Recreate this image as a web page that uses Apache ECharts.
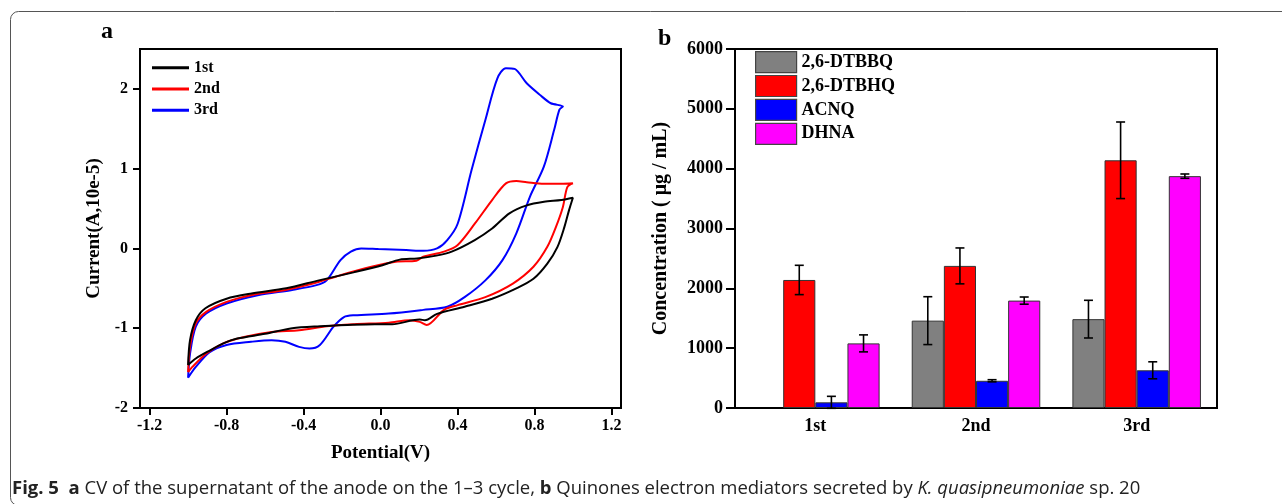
<!DOCTYPE html>
<html><head><meta charset="utf-8">
<script src="https://cdn.jsdelivr.net/npm/echarts@6/dist/echarts.min.js"></script>
<style>html,body{margin:0;padding:0;background:#fff}#c{width:1282px;height:504px}</style>
</head><body><div id="c"></div>
<script>
// ---------- Panel a: cyclic voltammetry (Potential V, Current A x10e-5) ----------
const cvTicksX = [-1.2, -0.8, -0.4, 0.0, 0.4, 0.8, 1.2];
const cvTicksY = [-2, -1, 0, 1, 2];
const cycleNames = ['1st', '2nd', '3rd'];
const cv1 = [
  [-1.00,-1.46],[-0.99,-1.15],[-0.96,-0.90],[-0.91,-0.75],[-0.80,-0.63],[-0.67,-0.565],[-0.49,-0.50],
  [-0.32,-0.40],[-0.14,-0.30],[0.01,-0.21],[0.10,-0.14],[0.19,-0.125],[0.29,-0.09],[0.37,-0.04],
  [0.49,0.105],[0.58,0.25],[0.67,0.44],[0.76,0.54],[0.85,0.585],[0.94,0.607],[1.00,0.636],
  [0.98,0.48],[0.956,0.27],[0.92,0.02],[0.867,-0.19],[0.795,-0.38],[0.706,-0.50],[0.58,-0.63],
  [0.437,-0.73],[0.294,-0.82],[0.231,-0.90],[0.204,-0.89],[0.168,-0.90],[0.061,-0.95],[-0.029,-0.95],
  [-0.172,-0.96],[-0.315,-0.975],[-0.459,-1.00],[-0.60,-1.07],[-0.745,-1.13],[-0.817,-1.19],
  [-0.888,-1.28],[-0.96,-1.38],[-1.00,-1.46]
];
const cv2 = [
  [-1.00,-1.55],[-0.99,-1.23],[-0.96,-0.94],[-0.906,-0.795],[-0.80,-0.67],[-0.673,-0.586],[-0.494,-0.52],
  [-0.351,-0.44],[-0.208,-0.335],[-0.047,-0.23],[0.079,-0.167],[0.186,-0.155],[0.222,-0.105],[0.33,-0.04],
  [0.40,0.04],[0.49,0.31],[0.58,0.607],[0.652,0.816],[0.706,0.845],[0.76,0.83],[0.849,0.81],[0.939,0.81],
  [1.00,0.816],
  [0.971,0.77],[0.948,0.52],[0.912,0.27],[0.867,0.02],[0.795,-0.23],[0.688,-0.44],[0.545,-0.61],
  [0.401,-0.71],[0.33,-0.77],[0.24,-0.96],[0.204,-0.92],[0.15,-0.90],[0.043,-0.93],[-0.136,-0.95],
  [-0.279,-0.975],[-0.423,-1.025],[-0.566,-1.046],[-0.709,-1.11],[-0.817,-1.19],[-0.906,-1.32],
  [-0.978,-1.485],[-1.00,-1.55]
];
const cv3 = [
  [-1.00,-1.62],[-0.99,-1.32],[-0.96,-0.98],[-0.906,-0.816],[-0.80,-0.69],[-0.638,-0.586],[-0.459,-0.52],
  [-0.333,-0.46],[-0.28,-0.40],[-0.208,-0.146],[-0.154,-0.04],[-0.10,0.0],[-0.011,-0.008],[0.133,-0.02],
  [0.222,-0.03],[0.294,0.0],[0.347,0.105],[0.401,0.31],[0.473,0.98],[0.545,1.61],[0.607,2.13],
  [0.652,2.26],[0.697,2.25],[0.76,2.07],[0.831,1.92],[0.885,1.82],[0.948,1.78],
  [0.93,1.74],[0.903,1.49],[0.849,1.025],[0.777,0.65],[0.706,0.19],[0.634,-0.146],[0.545,-0.40],
  [0.437,-0.61],[0.347,-0.73],[0.222,-0.77],[0.043,-0.816],[-0.136,-0.837],[-0.19,-0.86],[-0.244,-0.98],
  [-0.315,-1.21],[-0.369,-1.255],[-0.423,-1.234],[-0.494,-1.17],[-0.566,-1.15],[-0.673,-1.17],
  [-0.80,-1.21],[-0.888,-1.30],[-0.96,-1.485],[-1.00,-1.62]
];

// ---------- Panel b: quinone concentrations (µg/mL) ----------
const cycles = ['1st', '2nd', '3rd'];
const quinoneNames = ['2,6-DTBBQ', '2,6-DTBHQ', 'ACNQ', 'DHNA'];
const dtbbq = [null, 1460, 1485];
const dtbbqErr = [null, 400, 315];
const dtbhq = [2140, 2375, 4140];
const dtbhqErr = [245, 300, 640];
const acnq = [95, 455, 630];
const acnqErr = [100, 18, 142];
const dhna = [1080, 1795, 3875];
const dhnaErr = [142, 60, 36];
const concTicks = [0, 1000, 2000, 3000, 4000, 5000, 6000];

const serif = "'Liberation Serif','Times New Roman',serif";
const barColors = ['#808080', '#ff0000', '#0000ff', '#ff00ff'];
const lineColors = ['#000000', '#ff0000', '#0000ff'];

function errRender(idx) {
  return function (params, api) {
    const v = api.value(1), e = api.value(2);
    if (v == null || isNaN(v) || e == null || isNaN(e)) return null;
    const ci = api.value(0);
    const band = api.size([1, 0])[0];
    const bw = band * 0.8 / 4;
    const c = api.coord([ci, v]);
    const x = c[0] + (idx - 1.5) * bw;
    const yT = api.coord([ci, v + e])[1];
    const yB = api.coord([ci, v - e])[1];
    const cap = 4.5;
    const st = { stroke: '#000', lineWidth: 1.6 };
    return { type: 'group', children: [
      { type: 'line', shape: { x1: x, y1: yT, x2: x, y2: yB }, style: st },
      { type: 'line', shape: { x1: x - cap, y1: yT, x2: x + cap, y2: yT }, style: st },
      { type: 'line', shape: { x1: x - cap, y1: yB, x2: x + cap, y2: yB }, style: st }
    ]};
  };
}

const values = [dtbbq, dtbhq, acnq, dhna];
const errs = [dtbbqErr, dtbhqErr, acnqErr, dhnaErr];
const cvs = [cv1, cv2, cv3];

const series = [];
cvs.forEach((d, i) => series.push({
  name: cycleNames[i], type: 'line', xAxisIndex: 0, yAxisIndex: 0, data: d,
  showSymbol: false, symbol: 'none', smooth: 0.3, color: lineColors[i],
  lineStyle: { width: 2, color: lineColors[i] }, z: 5 - i
}));
values.forEach((vals, i) => series.push({
  name: quinoneNames[i], type: 'bar', xAxisIndex: 1, yAxisIndex: 1,
  data: vals.map(v => v == null ? '-' : v), barGap: '0%', barCategoryGap: '20%',
  color: barColors[i],
  itemStyle: { color: barColors[i], borderColor: '#333', borderWidth: 1 }
}));
values.forEach((vals, i) => series.push({
  type: 'custom', xAxisIndex: 1, yAxisIndex: 1, z: 10,
  renderItem: errRender(i), encode: { x: 0, y: 1 },
  data: vals.map((v, k) => [k, v == null ? NaN : v, errs[i][k] == null ? NaN : errs[i][k]])
}));

const axisLineSt = { show: true, onZero: false, lineStyle: { color: '#000', width: 2 } };
const labelSt = (size) => ({ color: '#000', fontFamily: serif, fontWeight: 'bold', fontSize: size });

const chart = echarts.init(document.getElementById('c'), null, { renderer: 'canvas' });
chart.setOption({
  backgroundColor: '#fff',
  animation: false,
  grid: [
    { left: 140, top: 49, width: 481, height: 359, show: true, borderColor: '#000', borderWidth: 2, backgroundColor: 'transparent' },
    { left: 735, top: 49, width: 482, height: 359, show: true, borderColor: '#000', borderWidth: 2, backgroundColor: 'transparent' }
  ],
  xAxis: [
    { type: 'value', gridIndex: 0, min: -1.25, max: 1.25, position: 'bottom',
      axisLine: axisLineSt,
      axisTick: { show: true, length: 7, customValues: cvTicksX, lineStyle: { color: '#000', width: 2 } },
      axisLabel: Object.assign(labelSt(16), { customValues: cvTicksX, margin: 10, formatter: v => (Math.abs(v) < 1e-9 ? 0 : v).toFixed(1) }),
      splitLine: { show: false },
      name: 'Potential(V)', nameLocation: 'middle', nameGap: 36, nameTextStyle: labelSt(19) },
    { type: 'category', gridIndex: 1, data: cycles, position: 'bottom',
      axisLine: axisLineSt, axisTick: { show: false },
      axisLabel: Object.assign(labelSt(18), { margin: 9 }), splitLine: { show: false } }
  ],
  yAxis: [
    { type: 'value', gridIndex: 0, min: -2, max: 2.5, position: 'left',
      axisLine: axisLineSt,
      axisTick: { show: true, length: 7, customValues: cvTicksY, lineStyle: { color: '#000', width: 2 } },
      axisLabel: Object.assign(labelSt(16), { customValues: cvTicksY, margin: 12, formatter: v => String(v) }),
      splitLine: { show: false },
      name: 'Current(A,10e-5)', nameLocation: 'middle', nameGap: 36, nameTextStyle: labelSt(19) },
    { type: 'value', gridIndex: 1, min: 0, max: 6000, interval: 1000, position: 'left',
      axisLine: axisLineSt,
      axisTick: { show: true, length: 9, customValues: concTicks, lineStyle: { color: '#000', width: 2 } },
      axisLabel: Object.assign(labelSt(18), { customValues: concTicks, margin: 12, formatter: v => String(v) }),
      splitLine: { show: false },
      name: 'Concentration ( μg / mL)', nameLocation: 'middle', nameGap: 64, nameTextStyle: labelSt(20) }
  ],
  legend: [
    { data: cycleNames, orient: 'vertical', left: 152, top: 57, icon: 'rect',
      itemWidth: 37, itemHeight: 3, itemGap: 0, padding: 0,
      textStyle: Object.assign(labelSt(16), { lineHeight: 21.3 }) },
    { data: quinoneNames, orient: 'vertical', left: 755, top: 51, icon: 'rect',
      itemWidth: 41, itemHeight: 21, itemGap: 1.7, padding: 0,
      itemStyle: { borderColor: '#444', borderWidth: 1.2 },
      textStyle: labelSt(18) }
  ],
  graphic: [
    { type: 'rect', silent: true, z: 0,
      shape: { x: 10.5, y: 11.5, width: 1300, height: 494, r: 8 },
      style: { fill: 'none', stroke: '#555', lineWidth: 1 } },
    { type: 'text', style: { text: 'a', x: 101, y: 32, font: "bold 24px 'Liberation Serif','Times New Roman',serif", fill: '#000', verticalAlign: 'middle' } },
    { type: 'text', style: { text: 'b', x: 658, y: 39, font: "bold 24px 'Liberation Serif','Times New Roman',serif", fill: '#000', verticalAlign: 'middle' } },
    { type: 'text', style: {
        x: 12, y: 489, verticalAlign: 'middle',
        text: '{b|Fig. 5}  {b|a} CV of the supernatant of the anode on the 1–3 cycle, {b|b} Quinones electron mediators secreted by {i|K. quasipneumoniae} sp. 20',
        fontFamily: "'Open Sans','Noto Sans',sans-serif", fontSize: 18.5, fill: '#222',
        rich: {
          b: { fontFamily: "'Open Sans','Noto Sans',sans-serif", fontSize: 18.5, fontWeight: 'bold', fill: '#222' },
          i: { fontFamily: "'Open Sans','Noto Sans',sans-serif", fontSize: 18.5, fontStyle: 'italic', fill: '#222' }
        }
      } }
  ],
  series: series
});
</script>
</body></html>
